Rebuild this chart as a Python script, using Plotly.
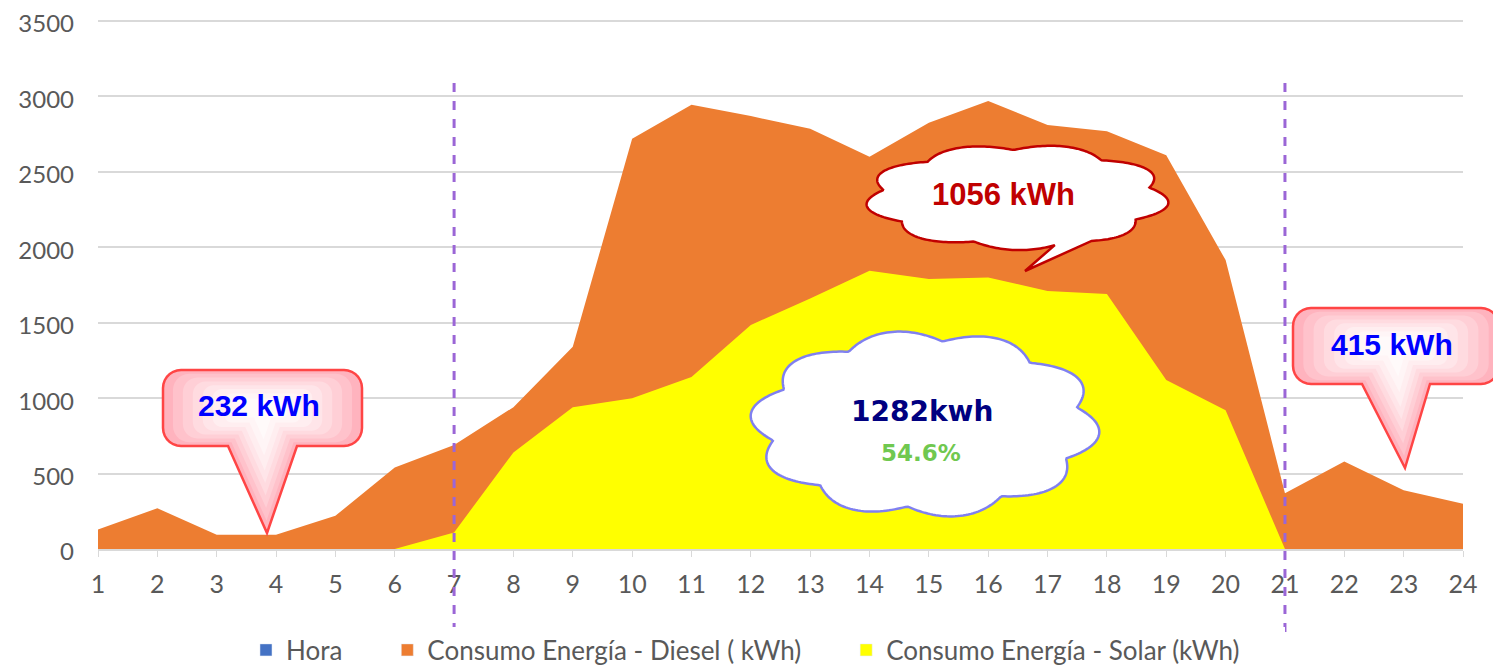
import numpy as np
import plotly.graph_objects as go

hora = list(range(1, 25))
diesel = [130, 270, 95, 95, 220, 540, 690, 940, 1340, 2720, 2945, 2870,
          2785, 2600, 2825, 2970, 2810, 2770, 2610, 1915, 370, 580, 390, 300]
solar = [0, 0, 0, 0, 0, 0, 110, 640, 940, 1000, 1140, 1485,
         1660, 1845, 1790, 1800, 1710, 1690, 1120, 920, 0, 0, 0, 0]
x_ticks = list(range(1, 25))
names = ["Hora", "Consumo Energía - Diesel ( kWh)", "Consumo Energía - Solar (kWh)"]
colors = ["#4472C4", "#ED7D31", "#FFFF00"]

# plot area in page pixels (used to place the callouts); the page body adds 8px
# top sits 2px above the 3500 gridline so that gridline is still drawn
PL, PR, PT, PB = 98, 1463, 19, 549
Y_TOP = 3500 * (PB - PT) / (PB - PT - 2)
OFF = 8
W, H = 1501 - OFF, 667 - OFF


def px(x, y):
    return (x - PL) / (PR - PL), (PB - y) / (PB - PT)


def path_from(points):
    parts = []
    for i, (x, y) in enumerate(points):
        u, v = px(x, y)
        parts.append(("M" if i == 0 else "L") + f"{u:.5f},{v:.5f}")
    return " ".join(parts) + " Z"


def bubble_points(x0, y0, x1, y1, bl, br, tip, r=18, scale=1.0):
    pts = []

    def arc(cx, cy, a0, a1):
        for a in np.linspace(a0, a1, 8):
            pts.append((cx + r * np.cos(a), cy + r * np.sin(a)))

    arc(x1 - r, y0 + r, -np.pi / 2, 0)
    arc(x1 - r, y1 - r, 0, np.pi / 2)
    pts.append((br, y1))
    pts.append(tip)
    pts.append((bl, y1))
    arc(x0 + r, y1 - r, np.pi / 2, np.pi)
    arc(x0 + r, y0 + r, np.pi, 1.5 * np.pi)
    cx, cy = (x0 + x1) / 2, (y0 + y1) / 2
    return [(cx + (x - cx) * scale, cy + (y - cy) * scale) for x, y in pts]


def cloud_points(cx, cy, rx, ry, n, tail=None, k=0.13):
    pts = []
    th = np.linspace(0, 2 * np.pi, 400, endpoint=False)
    placed = False
    for t in th:
        if tail is not None and tail[0] <= t <= tail[1]:
            if not placed:
                pts.append(tail[2])
                placed = True
            continue
        f = 1 + k * abs(np.sin(n * (t + 0.2) / 2))
        pts.append((cx + rx * f * np.cos(t), cy + ry * f * np.sin(t)))
    return pts


fig = go.Figure()
for vals, name, col in zip([hora, diesel, solar], names, colors):
    fig.add_trace(go.Scatter(x=hora, y=vals, name=name, mode="lines",
                             fill="tozeroy", fillcolor=col, showlegend=False,
                             line=dict(width=0, color=col)))
# legend entries with square keys (trailing nbsp for the wider spacing)
pad = "\u00a0" * 6
for name, col in zip(names, colors):
    fig.add_trace(go.Bar(x=[None], y=[None], name=name + pad, marker_color=col))

shapes = []
for xv in [7, 21]:
    shapes.append(dict(type="line", xref="x", yref="paper", x0=xv, x1=xv,
                       y0=px(0, 632)[1], y1=px(0, 83)[1], layer="above",
                       line=dict(color="#9B66D6", width=3, dash="dash")))

# pink speech bubbles, layered to fake the radial gradient
grad = [(1.0, "#FFB3BE"), (0.9, "#FFC2CB"), (0.8, "#FFCFD6"), (0.7, "#FFDBE0"),
        (0.6, "#FFE5E9"), (0.5, "#FFEEF0"), (0.38, "#FFF5F6"), (0.25, "#FFFAFA")]
for b in [(163, 370, 362, 446, 228, 297, (267, 533)),
          (1293, 308, 1499, 384, 1362, 1430, (1405, 468))]:
    x0, y0, x1, y1, bl, br, tip = b
    for s, c in grad:
        shapes.append(dict(type="path", xref="paper", yref="paper", layer="above",
                           path=path_from(bubble_points(x0, y0, x1, y1, bl, br, tip, scale=s)),
                           fillcolor=c, line=dict(width=0)))
    shapes.append(dict(type="path", xref="paper", yref="paper", layer="above",
                       path=path_from(bubble_points(x0, y0, x1, y1, bl, br, tip)),
                       fillcolor="rgba(0,0,0,0)", line=dict(color="#FF4545", width=2.5)))

# clouds
shapes.append(dict(type="path", xref="paper", yref="paper", layer="above",
                   path=path_from(cloud_points(1017, 197, 135, 47, 9,
                                               tail=(1.05, 1.3, (1025, 271)))),
                   fillcolor="white", line=dict(color="#C00000", width=2.5)))
shapes.append(dict(type="path", xref="paper", yref="paper", layer="above",
                   path=path_from(cloud_points(925, 424, 155, 83, 10)),
                   fillcolor="white", line=dict(color="#8080F0", width=2.5)))

annotations = []


def label(x, y, text, color, size, family):
    u, v = px(x, y)
    annotations.append(dict(x=u, y=v, xref="paper", yref="paper", showarrow=False,
                            text=f"<b>{text}</b>", xanchor="center", yanchor="middle",
                            font=dict(color=color, size=size, family=family)))


label(259, 405, "232 kWh", "#0000FF", 30, "Liberation Sans")
label(1392, 344, "415 kWh", "#0000FF", 30, "Liberation Sans")
label(1003, 194, "1056 kWh", "#C00000", 31, "Liberation Sans")
label(922, 411, "1282kwh", "#000080", 28, "DejaVu Sans")
label(921, 453, "54.6%", "#70C850", 23, "DejaVu Sans")

fig.update_layout(
    width=W, height=H,
    margin=dict(l=PL - OFF, r=W - (PR - OFF), t=PT - OFF, b=H - (PB - OFF),
                autoexpand=False),
    plot_bgcolor="white", paper_bgcolor="white",
    font=dict(family="Lato", color="#595959"),
    shapes=shapes, annotations=annotations,
    showlegend=True, barmode="overlay",
    legend=dict(orientation="h", x=0.489, xanchor="center", y=px(0, 650)[1],
                yanchor="middle", font=dict(size=26, color="#595959"), itemwidth=30),
    xaxis=dict(range=[1, 24], tickvals=x_ticks, showgrid=False, zeroline=False,
               showline=True, linecolor="#D9D9D9", linewidth=1.5, automargin=False,
               ticks="outside", ticklen=6, tickcolor="#D9D9D9",
               tickfont=dict(size=25, color="#595959"), ticklabelstandoff=6),
    yaxis=dict(range=[0, Y_TOP], dtick=500, showgrid=True, gridcolor="#D9D9D9",
               gridwidth=1.5, zeroline=False, ticks="", automargin=False,
               ticklabeloverflow="allow", ticklabelshift=3,
               tickfont=dict(size=24, color="#595959"), ticklabelstandoff=23),
)

fig.write_html("out.html")
